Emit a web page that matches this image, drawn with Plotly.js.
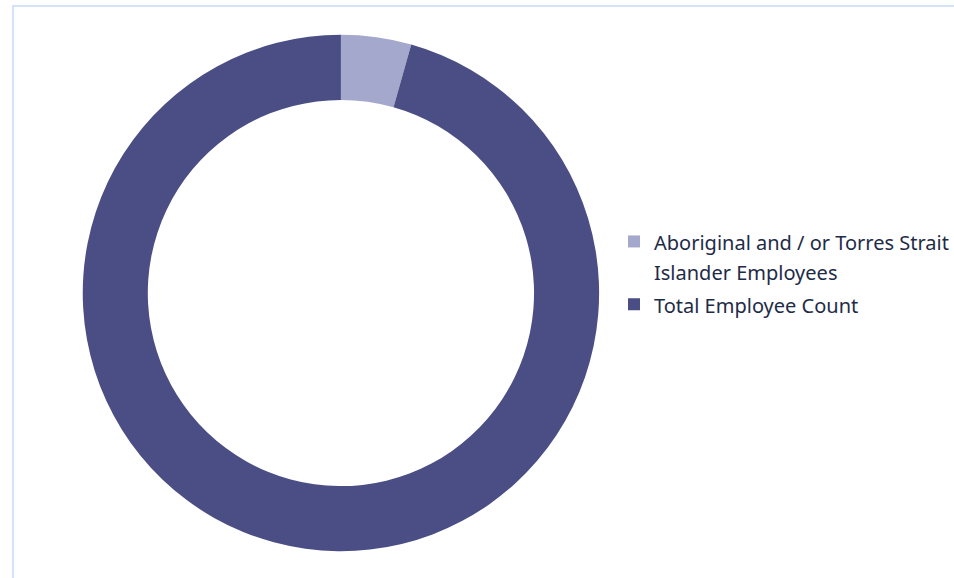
<!DOCTYPE html>
<html>
<head>
<meta charset="utf-8">
<script src="https://cdn.plot.ly/plotly-3.0.1.min.js"></script>
<style>
  html, body { margin: 0; padding: 0; background: #ffffff; overflow: hidden; }
  #frame { position: absolute; left: 12px; top: 5px; width: 960px; height: 600px; border: 2px solid #d3e3f7; box-sizing: border-box; }
  #chart { position: absolute; left: 0; top: 0; width: 954px; height: 578px; }
</style>
</head>
<body>
<div id="frame"></div>
<div id="chart"></div>
<script>
const categories = ["Aboriginal and / or Torres Strait<br>Islander Employees", "Total Employee Count"];
const values = [45, 980];
const colors = ["#a5a8cd", "#4a4e85"];

const W = 954, H = 578;
const cx = 342, cy = 293, r = 259;

const styledLabels = categories.map(function (c) {
  return c.split("<br>").map(function (s) {
    return "<span style='font-size:20px'>" + s + "</span>";
  }).join("<br>");
});

const trace = {
  type: "pie",
  labels: styledLabels,
  values: values,
  hole: 0.748,
  sort: false,
  direction: "clockwise",
  rotation: 0,
  textinfo: "none",
  hoverinfo: "label+value",
  marker: { colors: colors, line: { width: 0 } },
  domain: {
    x: [(cx - r) / W, (cx + r) / W],
    y: [1 - (cy + r) / H, 1 - (cy - r) / H]
  }
};

const layout = {
  width: W,
  height: H,
  margin: { l: 0, r: 0, t: 0, b: 0 },
  paper_bgcolor: "rgba(0,0,0,0)",
  plot_bgcolor: "rgba(0,0,0,0)",
  showlegend: true,
  legend: {
    x: 616 / W,
    y: 1 - 220 / H,
    xanchor: "left",
    yanchor: "top",
    valign: "top",
    font: { family: "Noto Sans, sans-serif", size: 23, color: "#1e2b47" },
    tracegroupgap: 0,
    itemclick: false,
    bgcolor: "rgba(0,0,0,0)"
  }
};

Plotly.newPlot("chart", [trace], layout, { displayModeBar: false, staticPlot: true });
</script>
</body>
</html>
